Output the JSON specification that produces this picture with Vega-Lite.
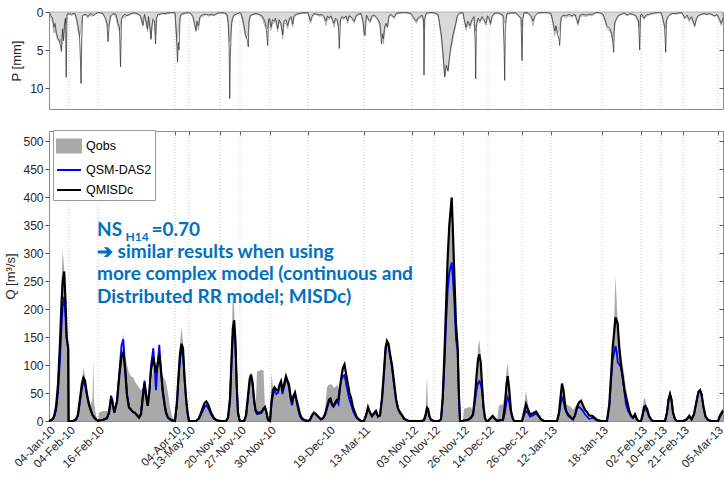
{
"$schema": "https://vega.github.io/schema/vega-lite/v6.json",
"padding": {"left": 4, "top": 5, "right": 0, "bottom": 0},
"background": "white",
"spacing": 20,
"config": {
  "font": "Liberation Sans",
  "view": {"stroke": "#8c8c8c", "strokeWidth": 1},
  "axis": {"domainColor": "#8c8c8c", "tickColor": "#555555", "labelColor": "#262626", "titleColor": "#262626", "labelFont": "Liberation Sans", "titleFont": "Liberation Sans", "grid": false, "titleFontWeight": "normal"}
},
"datasets": {
"ev": [{"t":68},{"t":97},{"t":174},{"t":188},{"t":219},{"t":239},{"t":269},{"t":307},{"t":363},{"t":411},{"t":433},{"t":462},{"t":487},{"t":521},{"t":550},{"t":601},{"t":640},{"t":660},{"t":682},{"t":717}],
"P": [
{"t":48,"a":0,"d":0},{"t":50,"a":0.8,"d":0.5},{"t":51.5,"a":1.2,"d":0.8},{"t":53,"a":2.8,"d":2.0},{"t":54,"a":2.2,"d":1.5},{"t":55.5,"a":3.2,"d":2.8},{"t":57,"a":3.8,"d":3.5},{"t":58.5,"a":4.0,"d":3.8},{"t":59.5,"a":3.5,"d":4.5},{"t":60.5,"a":4.8,"d":5.2},{"t":61.5,"a":2.5,"d":2.2},{"t":62.5,"a":3.6,"d":3.8},{"t":63.5,"a":2.0,"d":1.5},{"t":64.5,"a":1.0,"d":0.8},{"t":65.2,"a":1.5,"d":8.6},{"t":66,"a":0.5,"d":0.3},{"t":67,"a":0.2,"d":0.2},{"t":68,"a":0.3,"d":0.3},
{"t":69,"a":0.2,"d":0.2},{"t":70.5,"a":0.5,"d":0.3},{"t":72,"a":0.3,"d":0.2},{"t":74,"a":0.4,"d":0.2},{"t":75.5,"a":1.2,"d":0.8},{"t":77,"a":2.6,"d":1.8},{"t":78.5,"a":3.3,"d":3.0},{"t":79.5,"a":2.5,"d":6.5},{"t":80,"a":2.0,"d":9.4},{"t":80.7,"a":1.2,"d":4.0},{"t":81.5,"a":0.6,"d":0.5},{"t":83,"a":0.3,"d":0.4},{"t":85,"a":0.5,"d":0.3},{"t":87,"a":0.8,"d":0.6},{"t":89,"a":0.4,"d":0.2},{"t":91,"a":0.6,"d":0.3},{"t":93,"a":0.3,"d":0.5},{"t":95,"a":0.2,"d":0.2},{"t":97,"a":0.1,"d":0.1},
{"t":99,"a":0.1,"d":0.1},{"t":102,"a":0.3,"d":0.2},{"t":104.5,"a":1.0,"d":0.8},{"t":106,"a":1.8,"d":1.5},{"t":107,"a":2.0,"d":3.9},{"t":108,"a":1.5,"d":2.0},{"t":109.5,"a":0.8,"d":0.5},{"t":111,"a":0.4,"d":0.3},{"t":113,"a":0.3,"d":0.2},{"t":115,"a":0.8,"d":0.3},{"t":117,"a":2.0,"d":1.5},{"t":118.5,"a":2.5,"d":2.0},{"t":119.5,"a":1.5,"d":7.2},{"t":120.5,"a":1.0,"d":1.0},{"t":122,"a":0.6,"d":0.5},{"t":124,"a":0.8,"d":0.3},{"t":126,"a":0.3,"d":0.5},{"t":128,"a":0.5,"d":0.3},{"t":130,"a":0.3,"d":0.2},{"t":133,"a":0.2,"d":0.1},{"t":136,"a":0.3,"d":0.2},{"t":139,"a":0.5,"d":0.4},{"t":141,"a":1.5,"d":1.2},{"t":142,"a":0.8,"d":1.8},{"t":143.5,"a":0.5,"d":0.3},{"t":145,"a":1.5,"d":1.2},{"t":146.5,"a":2.6,"d":2.2},{"t":147.5,"a":1.0,"d":0.6},{"t":149,"a":2.5,"d":2.0},{"t":150,"a":3.7,"d":3.5},{"t":151,"a":2.0,"d":1.8},{"t":152,"a":0.8,"d":1.0},{"t":153.5,"a":1.5,"d":1.2},{"t":154.5,"a":3.0,"d":4.2},{"t":155.5,"a":1.0,"d":0.8},{"t":157,"a":0.3,"d":0.3},{"t":159,"a":0.4,"d":0.3},{"t":161,"a":0.2,"d":0.2},{"t":164,"a":0.3,"d":0.2},{"t":168,"a":0.2,"d":0.1},{"t":171,"a":0.1,"d":0.1},{"t":174,"a":0.1,"d":0.1},
{"t":174.5,"a":1.5,"d":1.0},{"t":175.5,"a":3.9,"d":3.0},{"t":176.5,"a":3.0,"d":6.6},{"t":177.2,"a":2.5,"d":4.0},{"t":178,"a":2.0,"d":5.0},{"t":179,"a":1.0,"d":0.8},{"t":180,"a":0.4,"d":0.3},{"t":182,"a":0.3,"d":0.2},{"t":185,"a":0.2,"d":0.1},{"t":188,"a":0.1,"d":0.1},
{"t":190,"a":0.3,"d":0.2},{"t":192,"a":0.8,"d":0.6},{"t":193.5,"a":1.8,"d":1.5},{"t":195,"a":2.6,"d":2.4},{"t":196,"a":1.5,"d":1.2},{"t":197.5,"a":2.4,"d":1.8},{"t":199,"a":0.8,"d":0.6},{"t":201,"a":0.6,"d":0.4},{"t":203,"a":0.5,"d":0.3},{"t":205,"a":0.3,"d":0.3},{"t":208,"a":0.6,"d":0.4},{"t":210,"a":0.4,"d":0.3},{"t":213,"a":0.5,"d":0.4},{"t":216,"a":0.3,"d":0.2},{"t":219,"a":0.1,"d":0.1},
{"t":220,"a":0.2,"d":0.1},{"t":223,"a":0.2,"d":0.1},{"t":226,"a":0.5,"d":0.3},{"t":227.3,"a":2.0,"d":1.5},{"t":228.2,"a":3.5,"d":5.0},{"t":228.7,"a":3.9,"d":11.4},{"t":229.3,"a":3.0,"d":6.0},{"t":230.5,"a":2.2,"d":1.5},{"t":231.5,"a":1.0,"d":0.8},{"t":233,"a":0.5,"d":0.4},{"t":235,"a":0.3,"d":0.3},{"t":237,"a":0.2,"d":0.2},{"t":239,"a":0.1,"d":0.1},
{"t":240,"a":0.3,"d":0.2},{"t":241.5,"a":1.2,"d":0.8},{"t":243,"a":2.2,"d":1.8},{"t":244.5,"a":3.3,"d":3.0},{"t":245.5,"a":3.5,"d":3.4},{"t":246.5,"a":3.0,"d":3.8},{"t":247.3,"a":2.5,"d":4.6},{"t":248,"a":1.5,"d":1.2},{"t":249.5,"a":0.5,"d":0.4},{"t":252,"a":0.4,"d":0.3},{"t":255,"a":0.3,"d":0.2},{"t":258,"a":0.4,"d":0.3},
{"t":261,"a":0.8,"d":0.5},{"t":263,"a":1.5,"d":1.0},{"t":264.5,"a":2.0,"d":1.5},{"t":265.5,"a":1.8,"d":2.5},{"t":266.7,"a":2.2,"d":4.4},{"t":267.5,"a":1.5,"d":1.0},{"t":268.5,"a":1.0,"d":0.8},{"t":270,"a":2.4,"d":2.0},{"t":271.5,"a":1.5,"d":1.0},{"t":273,"a":1.5,"d":1.2},{"t":274.5,"a":1.0,"d":0.8},{"t":276.7,"a":2.6,"d":2.2},{"t":278,"a":1.2,"d":1.0},{"t":280,"a":1.8,"d":1.5},{"t":281.7,"a":3.5,"d":3.0},{"t":283,"a":1.5,"d":1.2},{"t":285,"a":1.5,"d":1.0},{"t":286.7,"a":2.2,"d":1.8},{"t":288.5,"a":1.0,"d":0.8},{"t":290,"a":0.9,"d":0.6},{"t":291.7,"a":2.0,"d":1.6},{"t":293,"a":0.8,"d":0.5},{"t":295,"a":0.4,"d":0.3},{"t":298,"a":0.3,"d":0.2},{"t":301,"a":0.2,"d":0.1},{"t":304,"a":0.2,"d":0.1},{"t":307,"a":0.1,"d":0.1},
{"t":308,"a":0.8,"d":0.5},{"t":309.5,"a":1.5,"d":1.2},{"t":311,"a":0.8,"d":0.6},{"t":313,"a":0.3,"d":0.2},{"t":316,"a":0.4,"d":0.3},{"t":319,"a":0.6,"d":0.4},{"t":321,"a":0.4,"d":0.3},{"t":323,"a":0.8,"d":0.6},{"t":325,"a":1.8,"d":1.2},{"t":326.5,"a":0.8,"d":0.5},{"t":328,"a":1.0,"d":0.8},{"t":330,"a":0.6,"d":0.5},{"t":333,"a":2.0,"d":1.5},{"t":334.5,"a":1.0,"d":0.8},{"t":336,"a":1.2,"d":1.0},{"t":337.5,"a":2.0,"d":2.0},{"t":338.3,"a":1.5,"d":4.8},{"t":339.5,"a":1.2,"d":1.0},{"t":341,"a":0.8,"d":0.6},{"t":343,"a":1.0,"d":0.8},{"t":345,"a":0.6,"d":0.5},{"t":346.7,"a":1.5,"d":1.2},{"t":348,"a":0.6,"d":0.5},{"t":350,"a":0.8,"d":0.6},{"t":353.3,"a":1.5,"d":1.2},{"t":355,"a":0.6,"d":0.5},{"t":357,"a":0.4,"d":0.3},{"t":360,"a":0.3,"d":0.2},{"t":362,"a":1.5,"d":1.2},
{"t":363,"a":3.1,"d":2.5},{"t":364,"a":1.5,"d":3.1},{"t":365.5,"a":0.5,"d":0.4},{"t":367,"a":1.0,"d":0.8},{"t":369,"a":1.5,"d":1.2},{"t":371,"a":0.8,"d":0.5},{"t":373,"a":0.5,"d":0.4},{"t":375,"a":0.8,"d":0.6},{"t":377,"a":1.2,"d":1.0},{"t":379,"a":2.0,"d":1.5},{"t":380.5,"a":3.2,"d":4.2},{"t":381.5,"a":2.8,"d":3.0},{"t":382.5,"a":4.2,"d":3.5},{"t":383.5,"a":2.5,"d":2.0},{"t":385,"a":1.8,"d":1.5},{"t":386.5,"a":2.0,"d":2.0},{"t":388,"a":0.6,"d":0.5},{"t":390,"a":0.4,"d":0.3},{"t":392,"a":0.8,"d":0.6},{"t":393.5,"a":0.9,"d":0.6},{"t":395,"a":0.3,"d":0.2},{"t":398,"a":0.2,"d":0.1},{"t":402,"a":0.1,"d":0.1},{"t":406,"a":0.1,"d":0.1},{"t":410,"a":0.3,"d":0.2},
{"t":411,"a":0.6,"d":0.4},{"t":413,"a":1.0,"d":0.8},{"t":415.3,"a":1.5,"d":1.2},{"t":417,"a":1.0,"d":0.8},{"t":419,"a":0.8,"d":0.6},{"t":421,"a":0.5,"d":0.4},{"t":422.5,"a":1.5,"d":1.0},{"t":423,"a":2.0,"d":8.3},{"t":423.7,"a":1.0,"d":1.0},{"t":425,"a":0.3,"d":0.2},{"t":428,"a":0.1,"d":0.1},{"t":431,"a":0.1,"d":0.1},
{"t":433,"a":0.2,"d":0.1},{"t":435,"a":0.3,"d":0.2},{"t":437,"a":0.5,"d":0.3},{"t":438,"a":1.3,"d":1.0},{"t":440.3,"a":3.5,"d":3.0},{"t":442,"a":5.9,"d":5.5},{"t":443.7,"a":8.6,"d":8.5},{"t":445.3,"a":7.0,"d":7.0},{"t":447,"a":7.7,"d":7.8},{"t":449.3,"a":5.3,"d":5.0},{"t":452,"a":3.5,"d":3.0},{"t":454.7,"a":1.8,"d":1.5},{"t":456.5,"a":0.6,"d":0.4},{"t":459,"a":0.2,"d":0.1},{"t":462,"a":0.2,"d":0.1},
{"t":463,"a":1.0,"d":0.8},{"t":465,"a":2.4,"d":2.0},{"t":467,"a":1.5,"d":1.2},{"t":469,"a":2.2,"d":1.8},{"t":471,"a":1.2,"d":1.0},{"t":473,"a":0.8,"d":0.6},{"t":474.2,"a":2.0,"d":4.0},{"t":474.7,"a":2.5,"d":8.8},{"t":475.3,"a":1.5,"d":2.0},{"t":477,"a":1.0,"d":0.8},{"t":479,"a":1.5,"d":1.2},{"t":481,"a":0.8,"d":0.6},{"t":483,"a":1.2,"d":1.0},{"t":485,"a":1.8,"d":1.5},{"t":486.5,"a":0.6,"d":0.5},
{"t":488,"a":1.0,"d":0.8},{"t":489.5,"a":1.8,"d":1.5},{"t":491,"a":0.8,"d":0.6},{"t":493,"a":0.3,"d":0.2},{"t":496,"a":0.2,"d":0.1},{"t":499,"a":0.3,"d":0.2},{"t":502,"a":0.5,"d":0.4},{"t":503.2,"a":1.0,"d":5.0},{"t":503.7,"a":1.5,"d":9.0},{"t":504.3,"a":0.8,"d":2.0},{"t":506,"a":0.3,"d":0.2},{"t":510,"a":0.2,"d":0.1},{"t":515,"a":0.2,"d":0.1},{"t":520,"a":1.0,"d":0.8},{"t":521,"a":2.0,"d":6.4},{"t":521.8,"a":0.5,"d":1.0},
{"t":523,"a":0.2,"d":0.1},{"t":527,"a":0.2,"d":0.1},{"t":530,"a":0.8,"d":0.5},{"t":532,"a":1.8,"d":1.2},{"t":534,"a":0.6,"d":0.5},{"t":537,"a":0.2,"d":0.1},{"t":542,"a":0.1,"d":0.1},{"t":547,"a":0.1,"d":0.1},
{"t":550,"a":0.3,"d":0.2},{"t":551.5,"a":1.2,"d":1.0},{"t":553.7,"a":3.1,"d":2.5},{"t":555,"a":2.0,"d":1.8},{"t":556.5,"a":2.8,"d":3.0},{"t":558,"a":2.5,"d":3.5},{"t":558.7,"a":2.0,"d":4.4},{"t":560,"a":1.0,"d":0.8},{"t":562,"a":0.5,"d":0.4},{"t":565,"a":0.8,"d":0.5},{"t":568,"a":0.5,"d":0.3},{"t":571,"a":0.7,"d":0.5},{"t":574,"a":0.4,"d":0.3},{"t":577,"a":1.8,"d":1.5},{"t":579,"a":0.6,"d":0.4},{"t":582,"a":0.5,"d":0.3},{"t":585,"a":0.6,"d":0.4},{"t":588,"a":0.4,"d":0.3},{"t":591,"a":0.5,"d":0.3},{"t":595,"a":0.1,"d":0.1},{"t":599,"a":0.1,"d":0.1},
{"t":602,"a":0.5,"d":0.3},{"t":604,"a":1.3,"d":1.0},{"t":606,"a":2.2,"d":1.8},{"t":607.5,"a":2.4,"d":2.0},{"t":609,"a":2.6,"d":2.2},{"t":610.5,"a":3.0,"d":2.8},{"t":611.5,"a":3.9,"d":3.5},{"t":612.7,"a":2.5,"d":5.3},{"t":613.5,"a":2.0,"d":1.5},{"t":615,"a":1.2,"d":1.0},{"t":617,"a":0.6,"d":0.5},{"t":620,"a":0.4,"d":0.3},{"t":623,"a":0.2,"d":0.1},{"t":626,"a":0.5,"d":0.4},{"t":629,"a":0.3,"d":0.2},{"t":632,"a":0.4,"d":0.3},{"t":635,"a":0.6,"d":0.5},{"t":637.5,"a":1.5,"d":1.2},{"t":638.7,"a":2.0,"d":5.0},{"t":639.5,"a":0.5,"d":0.4},
{"t":641,"a":0.6,"d":0.3},{"t":643,"a":1.0,"d":0.8},{"t":645,"a":0.6,"d":0.4},{"t":648,"a":0.4,"d":0.3},{"t":651,"a":0.3,"d":0.2},{"t":654,"a":0.2,"d":0.1},{"t":657,"a":0.1,"d":0.1},{"t":660,"a":0.1,"d":0.1},
{"t":661,"a":0.5,"d":0.4},{"t":662.5,"a":1.5,"d":1.2},{"t":663.7,"a":2.2,"d":2.0},{"t":664.7,"a":1.8,"d":5.3},{"t":665.5,"a":1.2,"d":1.0},{"t":667,"a":0.8,"d":0.6},{"t":669,"a":0.4,"d":0.3},{"t":672,"a":0.2,"d":0.2},{"t":675,"a":0.3,"d":0.2},{"t":678,"a":0.2,"d":0.1},{"t":681,"a":0.2,"d":0.1},
{"t":683.7,"a":0.9,"d":0.8},{"t":686,"a":0.6,"d":0.4},{"t":688.3,"a":1.3,"d":1.0},{"t":690.5,"a":0.8,"d":0.6},{"t":693.7,"a":2.0,"d":1.8},{"t":695.5,"a":1.0,"d":0.8},{"t":697,"a":0.6,"d":0.5},{"t":700,"a":0.4,"d":0.3},{"t":703,"a":0.3,"d":0.2},{"t":706,"a":0.4,"d":0.3},{"t":709,"a":0.3,"d":0.2},{"t":712,"a":0.5,"d":0.4},{"t":714,"a":0.6,"d":0.5},{"t":716,"a":0.4,"d":0.3},
{"t":718,"a":1.0,"d":0.8},{"t":720.3,"a":1.8,"d":1.5},{"t":722,"a":1.0,"d":0.8}
],
"Q": [
{"t":48,"o":0,"s":0,"m":0},{"t":51,"o":3,"s":2,"m":2},{"t":53,"o":10,"s":6,"m":8},{"t":55,"o":30,"s":18,"m":25},{"t":57,"o":80,"s":50,"m":65},{"t":59,"o":160,"s":110,"m":140},{"t":60.5,"o":250,"s":170,"m":210},{"t":61.7,"o":305,"s":205,"m":250},{"t":63.2,"o":270,"s":222,"m":267},{"t":64.5,"o":210,"s":185,"m":215},{"t":65.7,"o":160,"s":145,"m":150},{"t":67.2,"o":130,"s":130,"m":130},{"t":67.6,"o":0,"s":0,"m":0},
{"t":72,"o":0,"s":0,"m":0},{"t":75,"o":3,"s":2,"m":3},{"t":77,"o":15,"s":10,"m":12},{"t":79,"o":45,"s":35,"m":40},{"t":81,"o":75,"s":60,"m":68},{"t":82.5,"o":95,"s":70,"m":77},{"t":84,"o":80,"s":65,"m":72},{"t":86,"o":50,"s":45,"m":48},{"t":88,"o":35,"s":28,"m":30},{"t":90,"o":30,"s":18,"m":18},{"t":91.5,"o":40,"s":10,"m":11},{"t":92.3,"o":110,"s":8,"m":9},{"t":93,"o":35,"s":6,"m":7},{"t":95,"o":10,"s":2,"m":3},{"t":97,"o":0,"s":0,"m":0},
{"t":98,"o":15,"s":1,"m":1},{"t":102,"o":18,"s":2,"m":2},{"t":106,"o":18,"s":5,"m":5},{"t":108,"o":20,"s":15,"m":15},{"t":110,"o":30,"s":45,"m":39},{"t":111.5,"o":28,"s":38,"m":32},{"t":113.3,"o":25,"s":15,"m":15},{"t":116,"o":40,"s":35,"m":35},{"t":118.5,"o":90,"s":90,"m":85},{"t":120.5,"o":140,"s":135,"m":115},{"t":122.3,"o":155,"s":146,"m":122},{"t":124,"o":120,"s":100,"m":95},{"t":126,"o":100,"s":50,"m":45},{"t":128,"o":86,"s":25,"m":24},{"t":130,"o":80,"s":20,"m":20},{"t":132,"o":78,"s":16,"m":16},{"t":134,"o":70,"s":14,"m":15},{"t":136,"o":65,"s":10,"m":10},{"t":138,"o":60,"s":6,"m":6},{"t":140,"o":55,"s":15,"m":12},{"t":142,"o":60,"s":50,"m":45},{"t":143.5,"o":65,"s":72,"m":68},{"t":145,"o":55,"s":50,"m":45},{"t":146.7,"o":45,"s":27,"m":27},{"t":148.5,"o":40,"s":55,"m":55},{"t":150,"o":60,"s":100,"m":90},{"t":152.3,"o":100,"s":130,"m":113},{"t":153.7,"o":80,"s":95,"m":100},{"t":155,"o":70,"s":55,"m":86},{"t":156.5,"o":90,"s":100,"m":100},{"t":158.3,"o":120,"s":136,"m":119},{"t":160,"o":90,"s":90,"m":90},{"t":161.7,"o":80,"s":54,"m":54},{"t":163.5,"o":75,"s":30,"m":30},{"t":165,"o":70,"s":15,"m":15},{"t":167,"o":50,"s":6,"m":6},{"t":169,"o":25,"s":3,"m":3},{"t":171,"o":8,"s":1,"m":1},{"t":174,"o":0,"s":0,"m":0},
{"t":176,"o":40,"s":30,"m":35},{"t":177.5,"o":90,"s":75,"m":80},{"t":179,"o":140,"s":110,"m":120},{"t":180.5,"o":167,"s":125,"m":138},{"t":182,"o":140,"s":120,"m":130},{"t":183.5,"o":90,"s":75,"m":80},{"t":185,"o":45,"s":40,"m":42},{"t":186.5,"o":20,"s":15,"m":15},{"t":188,"o":0,"s":0,"m":0},
{"t":195,"o":0,"s":0,"m":0},{"t":198,"o":5,"s":4,"m":5},{"t":201,"o":20,"s":15,"m":20},{"t":203.5,"o":30,"s":25,"m":32},{"t":205.3,"o":30,"s":28,"m":35},{"t":207.5,"o":22,"s":22,"m":28},{"t":210,"o":12,"s":12,"m":15},{"t":213,"o":4,"s":4,"m":5},{"t":216,"o":1,"s":1,"m":1},{"t":219,"o":0,"s":0,"m":0},
{"t":225,"o":0,"s":0,"m":0},{"t":227,"o":5,"s":5,"m":6},{"t":229,"o":40,"s":35,"m":40},{"t":230.5,"o":110,"s":100,"m":110},{"t":231.8,"o":235,"s":150,"m":165},{"t":233.2,"o":200,"s":165,"m":180},{"t":234.5,"o":120,"s":130,"m":140},{"t":235.8,"o":50,"s":60,"m":60},{"t":237,"o":10,"s":15,"m":15},{"t":238.5,"o":0,"s":2,"m":2},{"t":239,"o":0,"s":0,"m":0},
{"t":243,"o":0,"s":0,"m":0},{"t":245,"o":10,"s":8,"m":10},{"t":247,"o":45,"s":40,"m":45},{"t":248.7,"o":75,"s":70,"m":75},{"t":250,"o":89,"s":80,"m":83},{"t":251.5,"o":70,"s":65,"m":70},{"t":253,"o":30,"s":35,"m":40},{"t":254.5,"o":18,"s":18,"m":20},{"t":256,"o":88,"s":12,"m":15},{"t":260,"o":91,"s":14,"m":15},{"t":262.5,"o":90,"s":20,"m":22},{"t":264,"o":20,"s":24,"m":25},{"t":265.5,"o":10,"s":15,"m":15},{"t":267,"o":3,"s":2,"m":2},{"t":269,"o":0,"s":0,"m":0},
{"t":270.5,"o":85,"s":30,"m":35},{"t":272,"o":60,"s":45,"m":55},{"t":273.5,"o":55,"s":55,"m":60},{"t":275.5,"o":50,"s":48,"m":55},{"t":277,"o":45,"s":50,"m":54},{"t":278.5,"o":60,"s":62,"m":65},{"t":280,"o":65,"s":66,"m":71},{"t":281.5,"o":55,"s":48,"m":54},{"t":283,"o":55,"s":60,"m":65},{"t":285,"o":75,"s":75,"m":80},{"t":286.5,"o":65,"s":70,"m":72},{"t":288,"o":60,"s":60,"m":65},{"t":289.5,"o":45,"s":40,"m":45},{"t":291,"o":30,"s":28,"m":33},{"t":292.5,"o":35,"s":40,"m":45},{"t":294,"o":40,"s":48,"m":51},{"t":295.5,"o":30,"s":35,"m":38},{"t":297,"o":20,"s":22,"m":27},{"t":299,"o":8,"s":8,"m":12},{"t":301,"o":3,"s":3,"m":5},{"t":303,"o":1,"s":1,"m":2},{"t":307,"o":0,"s":0,"m":0},
{"t":309,"o":3,"s":2,"m":2},{"t":311,"o":10,"s":10,"m":10},{"t":313,"o":15,"s":14,"m":15},{"t":315,"o":12,"s":12,"m":12},{"t":317,"o":8,"s":8,"m":8},{"t":320,"o":3,"s":3,"m":3},{"t":322,"o":5,"s":5,"m":5},{"t":324,"o":20,"s":10,"m":12},{"t":326,"o":60,"s":22,"m":25},{"t":328,"o":65,"s":35,"m":38},{"t":329.5,"o":65,"s":38,"m":40},{"t":331,"o":65,"s":28,"m":30},{"t":332.5,"o":60,"s":25,"m":27},{"t":334,"o":60,"s":30,"m":32},{"t":336,"o":65,"s":35,"m":38},{"t":337.5,"o":60,"s":30,"m":39},{"t":339,"o":65,"s":60,"m":60},{"t":340.5,"o":75,"s":75,"m":80},{"t":342,"o":80,"s":80,"m":95},{"t":343.5,"o":83,"s":82,"m":101},{"t":345,"o":75,"s":68,"m":85},{"t":347,"o":55,"s":50,"m":65},{"t":348.5,"o":45,"s":38,"m":50},{"t":350,"o":30,"s":30,"m":42},{"t":352,"o":20,"s":18,"m":25},{"t":354,"o":10,"s":10,"m":15},{"t":356,"o":5,"s":5,"m":6},{"t":358,"o":2,"s":2,"m":3},{"t":360,"o":0,"s":0,"m":0},{"t":363,"o":0,"s":0,"m":0},
{"t":365,"o":10,"s":10,"m":10},{"t":367,"o":22,"s":22,"m":25},{"t":369,"o":18,"s":15,"m":15},{"t":371,"o":10,"s":8,"m":9},{"t":373,"o":12,"s":12,"m":14},{"t":375,"o":15,"s":16,"m":18},{"t":377,"o":10,"s":8,"m":8},{"t":379,"o":15,"s":10,"m":10},{"t":381,"o":45,"s":40,"m":40},{"t":383,"o":90,"s":85,"m":90},{"t":384.5,"o":130,"s":125,"m":130},{"t":386,"o":140,"s":140,"m":143},{"t":387.5,"o":135,"s":135,"m":138},{"t":389,"o":120,"s":118,"m":120},{"t":391,"o":100,"s":95,"m":100},{"t":393,"o":75,"s":65,"m":70},{"t":395,"o":45,"s":38,"m":40},{"t":397,"o":30,"s":22,"m":22},{"t":399,"o":20,"s":15,"m":15},{"t":401,"o":15,"s":10,"m":10},{"t":403,"o":10,"s":4,"m":4},{"t":405,"o":5,"s":2,"m":2},{"t":408,"o":0,"s":0,"m":0},
{"t":421,"o":0,"s":0,"m":0},{"t":423,"o":3,"s":2,"m":2},{"t":424.5,"o":15,"s":10,"m":10},{"t":426,"o":80,"s":22,"m":24},{"t":427,"o":25,"s":20,"m":22},{"t":428.5,"o":8,"s":8,"m":8},{"t":430,"o":2,"s":2,"m":2},{"t":433,"o":0,"s":0,"m":0},
{"t":438,"o":0,"s":0,"m":0},{"t":440,"o":3,"s":3,"m":3},{"t":441.7,"o":40,"s":35,"m":42},{"t":443.3,"o":110,"s":95,"m":113},{"t":445,"o":200,"s":170,"m":202},{"t":446.7,"o":290,"s":235,"m":292},{"t":448.3,"o":360,"s":265,"m":350},{"t":450.7,"o":400,"s":283,"m":399},{"t":451.7,"o":370,"s":260,"m":351},{"t":453.3,"o":270,"s":214,"m":262},{"t":455,"o":180,"s":146,"m":173},{"t":456.7,"o":140,"s":125,"m":131},{"t":457.7,"o":60,"s":60,"m":54},{"t":459,"o":0,"s":0,"m":0},{"t":462,"o":0,"s":0,"m":0},
{"t":463,"o":22,"s":1,"m":1},{"t":467,"o":24,"s":2,"m":2},{"t":470,"o":25,"s":6,"m":6},{"t":472,"o":15,"s":10,"m":12},{"t":474,"o":40,"s":35,"m":45},{"t":475.5,"o":80,"s":55,"m":80},{"t":477,"o":130,"s":68,"m":110},{"t":478.3,"o":146,"s":71,"m":119},{"t":479.7,"o":120,"s":65,"m":105},{"t":481,"o":80,"s":55,"m":65},{"t":482.5,"o":30,"s":25,"m":25},{"t":484,"o":5,"s":5,"m":5},{"t":485.5,"o":0,"s":0,"m":0},{"t":487,"o":0,"s":0,"m":0},
{"t":489,"o":4,"s":4,"m":4},{"t":491.7,"o":9,"s":9,"m":9},{"t":494,"o":5,"s":4,"m":4},{"t":496,"o":1,"s":0,"m":0},{"t":498,"o":28,"s":1,"m":1},{"t":502,"o":30,"s":2,"m":2},{"t":504,"o":50,"s":15,"m":30},{"t":505.5,"o":90,"s":35,"m":65},{"t":506.7,"o":104,"s":42,"m":80},{"t":508,"o":75,"s":35,"m":60},{"t":510,"o":25,"s":15,"m":18},{"t":512,"o":5,"s":3,"m":3},{"t":513.5,"o":0,"s":0,"m":0},{"t":521,"o":0,"s":0,"m":0},
{"t":523,"o":25,"s":10,"m":15},{"t":525,"o":54,"s":18,"m":30},{"t":527,"o":30,"s":14,"m":20},{"t":529,"o":12,"s":8,"m":12},{"t":532,"o":12,"s":10,"m":14},{"t":535,"o":15,"s":14,"m":17},{"t":537.5,"o":10,"s":8,"m":10},{"t":540,"o":3,"s":3,"m":3},{"t":543,"o":0,"s":0,"m":0},{"t":556,"o":0,"s":0,"m":0},
{"t":558,"o":15,"s":12,"m":15},{"t":560,"o":50,"s":35,"m":50},{"t":561,"o":60,"s":42,"m":67},{"t":562.5,"o":50,"s":35,"m":55},{"t":564,"o":35,"s":22,"m":30},{"t":565,"o":30,"s":18,"m":18},{"t":567,"o":28,"s":10,"m":12},{"t":570,"o":25,"s":5,"m":6},{"t":572,"o":20,"s":3,"m":3},{"t":574,"o":25,"s":10,"m":10},{"t":576,"o":30,"s":22,"m":25},{"t":578,"o":35,"s":25,"m":33},{"t":580,"o":30,"s":22,"m":36},{"t":582,"o":25,"s":18,"m":28},{"t":584,"o":15,"s":12,"m":20},{"t":586,"o":10,"s":8,"m":16},{"t":588,"o":5,"s":4,"m":10},{"t":591.7,"o":6,"s":6,"m":9},{"t":594,"o":4,"s":3,"m":5},{"t":596,"o":2,"s":1,"m":2},{"t":600,"o":0,"s":0,"m":0},{"t":606,"o":0,"s":0,"m":0},
{"t":608.3,"o":30,"s":25,"m":30},{"t":610,"o":80,"s":70,"m":80},{"t":611.7,"o":140,"s":110,"m":131},{"t":613.5,"o":200,"s":125,"m":165},{"t":614.5,"o":260,"s":134,"m":185},{"t":616,"o":200,"s":120,"m":178},{"t":616.7,"o":180,"s":105,"m":173},{"t":618.3,"o":140,"s":101,"m":131},{"t":620,"o":120,"s":96,"m":100},{"t":621.7,"o":100,"s":80,"m":77},{"t":623.5,"o":80,"s":50,"m":55},{"t":625,"o":60,"s":30,"m":42},{"t":627,"o":40,"s":18,"m":28},{"t":628.3,"o":25,"s":14,"m":18},{"t":630,"o":12,"s":8,"m":10},{"t":632,"o":5,"s":5,"m":6},{"t":634,"o":12,"s":10,"m":12},{"t":636,"o":3,"s":2,"m":3},{"t":637.5,"o":0,"s":0,"m":0},{"t":640,"o":0,"s":0,"m":0},
{"t":641.5,"o":20,"s":10,"m":10},{"t":643,"o":42,"s":20,"m":25},{"t":644.3,"o":38,"s":21,"m":27},{"t":646,"o":25,"s":18,"m":22},{"t":648,"o":10,"s":8,"m":10},{"t":650,"o":3,"s":2,"m":3},{"t":652,"o":0,"s":0,"m":0},{"t":664,"o":0,"s":0,"m":0},
{"t":666,"o":15,"s":15,"m":15},{"t":667.5,"o":40,"s":38,"m":38},{"t":669,"o":55,"s":48,"m":48},{"t":670.5,"o":40,"s":38,"m":38},{"t":672,"o":15,"s":15,"m":15},{"t":674,"o":3,"s":3,"m":3},{"t":676,"o":0,"s":0,"m":0},{"t":682,"o":0,"s":0,"m":0},
{"t":685,"o":2,"s":2,"m":2},{"t":688.3,"o":9,"s":9,"m":9},{"t":690.5,"o":3,"s":3,"m":3},{"t":693,"o":12,"s":12,"m":12},{"t":695.5,"o":35,"s":35,"m":35},{"t":697.5,"o":52,"s":52,"m":52},{"t":699,"o":55,"s":55,"m":55},{"t":700.5,"o":48,"s":48,"m":48},{"t":702.5,"o":25,"s":25,"m":25},{"t":704.5,"o":8,"s":8,"m":8},{"t":707,"o":2,"s":2,"m":2},{"t":710,"o":0,"s":0,"m":0},{"t":717,"o":0,"s":0,"m":0},
{"t":719,"o":10,"s":8,"m":10},{"t":721.7,"o":18,"s":15,"m":18},{"t":722,"o":18,"s":15,"m":18}
]
},
"vconcat": [
{
  "width": 674, "height": 97,
  "layer": [
    {"data": {"name": "ev"}, "mark": {"type": "rule", "stroke": "#c4c4c4", "strokeDash": [1, 2], "strokeWidth": 1},
     "encoding": {"x": {"field": "t", "type": "quantitative", "scale": {"domain": [48, 722], "nice": false, "zero": false}, "axis": {"values": [68,97,174,188,219,239,269,307,363,411,433,462,487,521,550,601,640,660,682,717], "labels": false, "tickSize": -4, "domain": false, "title": null}}}},
    {"data": {"name": "P"}, "mark": {"type": "area", "fill": "#d9d9d9", "stroke": "#8f8f8f", "strokeWidth": 0.6},
     "encoding": {"x": {"field": "t", "type": "quantitative", "axis": null},
                  "y": {"field": "a", "type": "quantitative", "scale": {"domain": [0, 12.76], "reverse": true, "nice": false, "zero": false}, "axis": {"values": [0, 5, 10], "title": "P [mm]", "tickSize": 4, "labelFontSize": 12, "titleFontSize": 13, "titlePadding": 6, "domain": false, "labelPadding": 2}}}},
    {"data": {"name": "P"}, "mark": {"type": "line", "stroke": "#3a3a3a", "strokeWidth": 0.8},
     "encoding": {"x": {"field": "t", "type": "quantitative", "axis": null},
                  "y": {"field": "d", "type": "quantitative", "axis": {"orient": "right", "values": [5, 10], "labels": false, "tickSize": -4, "title": null, "domain": false}}}}
  ],
  "resolve": {"axis": {"y": "independent"}}
},
{
  "width": 674, "height": 290,
  "layer": [
    {"data": {"name": "ev"}, "mark": {"type": "rule", "stroke": "#c4c4c4", "strokeDash": [1, 2], "strokeWidth": 1},
     "encoding": {"x": {"field": "t", "type": "quantitative", "scale": {"domain": [48, 722], "nice": false, "zero": false},
        "axis": {"values": [48,68,97,174,188,219,239,269,328,363,411,433,462,487,521,550,601,640,660,682,716],
                 "labelExpr": "['04-Jan-10','04-Feb-10','16-Feb-10','04-Apr-10','13-May-10','20-Nov-10','27-Nov-10','30-Nov-10','19-Dec-10','13-Mar-11','03-Nov-12','10-Nov-12','26-Nov-12','14-Dec-12','26-Dec-12','12-Jan-13','18-Jan-13','02-Feb-13','10-Feb-13','21-Feb-13','05-Mar-13'][indexof([48,68,97,174,188,219,239,269,328,363,411,433,462,487,521,550,601,640,660,682,716], datum.value)]",
                 "labelAngle": -45, "labelAlign": "right", "labelBaseline": "top", "labelFontSize": 11.5, "labelOverlap": false, "labelFlush": false, "labelBound": false, "ticks": false, "domain": false, "title": null, "labelPadding": 3}}}},
    {"data": {"name": "Q"}, "mark": {"type": "area"},
     "encoding": {"x": {"field": "t", "type": "quantitative", "axis": null},
                  "y": {"field": "o", "type": "quantitative", "scale": {"domain": [0, 518], "nice": false}, "axis": {"values": [0,50,100,150,200,250,300,350,400,450,500], "title": "Q [m³/s]", "tickSize": 4, "labelFontSize": 12, "titleFontSize": 13, "titlePadding": 5, "domain": false, "labelPadding": 2}},
                  "color": {"datum": "Qobs", "type": "nominal", "scale": {"domain": ["Qobs", "QSM-DAS2", "QMISDc"], "range": ["#a9a9a9", "#0000ff", "#000000"]},
                     "legend": {"title": null, "orient": "none", "legendX": 4, "legendY": 118, "padding": 3, "fillColor": "white", "strokeColor": "#9a9a9a", "cornerRadius": 0, "labelFontSize": 12.5, "labelFont": "Liberation Sans", "labelColor": "#000000", "labelOffset": 4, "symbolSize": 576, "symbolStrokeWidth": 2, "rowPadding": -5, "symbolType": "stroke", "columnPadding": 0,
                       "encode": {"symbols": {"update": {"shape": {"signal": "datum.value == 'Qobs' ? 'M-1,-0.55H1V0.55H-1Z' : 'stroke'"}, "fill": {"signal": "datum.value == 'Qobs' ? '#a9a9a9' : 'transparent'"}, "stroke": {"signal": "datum.value == 'Qobs' ? '#a9a9a9' : datum.value == 'QSM-DAS2' ? '#0000ff' : '#000000'"}}}, "legend": {"update": {"width": {"value": 100}}}}}}}},
    {"data": {"name": "Q"}, "mark": {"type": "line", "strokeWidth": 1.8},
     "encoding": {"x": {"field": "t", "type": "quantitative", "axis": null},
                  "y": {"field": "s", "type": "quantitative", "axis": null},
                  "color": {"datum": "QSM-DAS2", "type": "nominal"}}},
    {"data": {"name": "Q"}, "mark": {"type": "line", "strokeWidth": 2.2},
     "encoding": {"x": {"field": "t", "type": "quantitative", "axis": {"orient": "top", "values": [68,97,174,188,219,239,269,307,363,411,433,462,487,521,550,601,640,660,682,717], "labels": false, "tickSize": -4, "domain": false, "title": null}},
                  "y": {"field": "m", "type": "quantitative", "axis": {"orient": "right", "values": [50,100,150,200,250,300,350,400,450,500], "labels": false, "tickSize": -4, "title": null, "domain": false}},
                  "color": {"datum": "QMISDc", "type": "nominal"}}},
    {"data": {"values": [{"t": 96, "q": 330, "s": "NS"}, {"t": 150.5, "q": 330, "s": "=0.70"}, {"t": 96, "q": 291, "s": "➔ similar results when using"}, {"t": 96, "q": 252, "s": "more complex model (continuous and"}, {"t": 96, "q": 211, "s": "Distributed RR model; MISDc)"}]},
     "mark": {"type": "text", "align": "left", "baseline": "alphabetic", "font": "Lato", "fontWeight": "bold", "fontSize": 19, "color": "#0070c0"},
     "encoding": {"x": {"field": "t", "type": "quantitative", "axis": null}, "y": {"field": "q", "type": "quantitative", "axis": null}, "text": {"field": "s"}}},
    {"data": {"values": [{"t": 124.5, "q": 322, "s": "H14"}]},
     "mark": {"type": "text", "align": "left", "baseline": "alphabetic", "font": "Lato", "fontWeight": "bold", "fontSize": 12, "color": "#0070c0"},
     "encoding": {"x": {"field": "t", "type": "quantitative", "axis": null}, "y": {"field": "q", "type": "quantitative", "axis": null}, "text": {"field": "s"}}}
  ],
  "resolve": {"axis": {"x": "independent", "y": "independent"}}
}
]
}
